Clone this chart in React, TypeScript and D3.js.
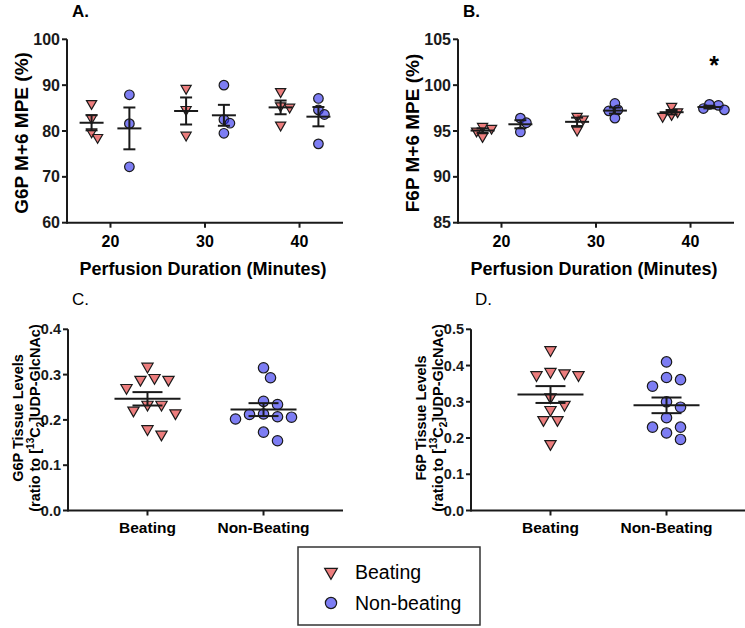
import React from 'react';
import * as d3 from 'd3';

// ---- data ----
const minutes = [20, 30, 40];
const groups = ['Beating', 'Non-Beating'];

// panel A: G6P M+6 MPE (%)
const g6pBeating = [[86.0, 82.8, 78.6, 79.8], [89.3, 84.7, 79.1], [88.6, 85.5, 85.2, 81.3]];
const g6pNonBeating = [[87.9, 81.6, 72.2], [90.0, 82.5, 81.7, 79.5], [87.1, 84.6, 83.6, 77.2]];

// panel B: F6P M+6 MPE (%)
const f6pBeating = [[95.3, 94.4, 95.0, 95.5], [95.1, 96.3, 96.6], [97.1, 96.6, 96.8, 97.7]];
const f6pNonBeating = [[96.4, 95.9, 94.9], [98.0, 97.3, 97.2, 96.4], [97.8, 97.3, 97.45, 97.9]];

// panel C / D: tissue levels, ratio to [13C2]UDP-GlcNAc
const g6pTissueBeating = [0.318, 0.293, 0.289, 0.289, 0.271, 0.234, 0.234, 0.221, 0.215, 0.180, 0.168];
const g6pTissueNonBeating = [0.315, 0.293, 0.241, 0.234, 0.213, 0.212, 0.207, 0.206, 0.202, 0.173, 0.154];
const f6pTissueBeating = [0.443, 0.383, 0.379, 0.374, 0.374, 0.313, 0.292, 0.278, 0.250, 0.250, 0.184];
const f6pTissueNonBeating = [0.410, 0.367, 0.361, 0.343, 0.300, 0.285, 0.256, 0.230, 0.230, 0.214, 0.196];

const ticksA = [60, 70, 80, 90, 100];
const ticksB = [85, 90, 95, 100, 105];
const ticksC = [0, 0.1, 0.2, 0.3, 0.4];
const ticksD = [0, 0.1, 0.2, 0.3, 0.4, 0.5];

const RED = 'rgb(225,45,45)';
const BLUE = 'rgb(45,45,235)';
const INK = '#1a1a1a';
const FONT = '"Liberation Sans", Arial, sans-serif';

const triPath = (size) => d3.symbol().type(d3.symbolTriangle).size(size)();
const circPath = (size) => d3.symbol().type(d3.symbolCircle).size(size)();

// simple beeswarm: place points by value, nudging sideways on collision
function swarm(values, y, cx, dist, step) {
  const order = values.map((v, i) => ({ i, y: y(v) })).sort((a, b) => a.y - b.y);
  const placed = [];
  const xs = new Array(values.length);
  for (const p of order) {
    for (let k = 0; k < 60; k++) {
      const off = k === 0 ? 0 : (k % 2 ? 1 : -1) * Math.ceil(k / 2) * step;
      const x = cx + off;
      if (placed.every(q => Math.hypot(q.x - x, q.y - p.y) >= dist)) {
        placed.push({ x, y: p.y });
        xs[p.i] = x;
        break;
      }
    }
  }
  return xs;
}

function Marker({ kind, x, y, size }) {
  if (kind === 'tri') {
    return <path d={triPath(size)} transform={`translate(${x},${y}) rotate(180)`}
      fill={RED} fillOpacity={0.62} stroke={INK} strokeWidth={1.2} />;
  }
  return <path d={circPath(size)} transform={`translate(${x},${y})`}
    fill={BLUE} fillOpacity={0.62} stroke={INK} strokeWidth={1.2} />;
}

function ErrBar({ values, y, cx, meanW, capW }) {
  const m = d3.mean(values);
  const sem = d3.deviation(values) / Math.sqrt(values.length);
  return (
    <g stroke={INK} strokeWidth={2}>
      <line x1={cx - meanW / 2} x2={cx + meanW / 2} y1={y(m)} y2={y(m)} />
      <line x1={cx} x2={cx} y1={y(m - sem)} y2={y(m + sem)} />
      <line x1={cx - capW / 2} x2={cx + capW / 2} y1={y(m - sem)} y2={y(m - sem)} />
      <line x1={cx - capW / 2} x2={cx + capW / 2} y1={y(m + sem)} y2={y(m + sem)} />
    </g>
  );
}

function YAxis({ y, ticks, x0, fmt, fontSize }) {
  const [r0, r1] = y.range();
  return (
    <g>
      <line x1={x0} x2={x0} y1={r0 + 1} y2={r1} stroke={INK} strokeWidth={2} />
      {ticks.map(t => (
        <g key={t}>
          <line x1={x0 - 5} x2={x0} y1={y(t)} y2={y(t)} stroke={INK} strokeWidth={2} />
          <text x={x0 - 7} y={y(t)} dy="0.35em" textAnchor="end" fontSize={fontSize}
            fontWeight="bold" fill={INK}>{fmt(t)}</text>
        </g>
      ))}
    </g>
  );
}

function TimePanel({ label, yTitle, beating, nonBeating, yDomain, ticks, left, star }) {
  const x = d3.scaleLinear().domain([15.4, 44.6]).range([left, left + 276]);
  const y = d3.scaleLinear().domain(yDomain).range([222.7, 39.3]);
  const base = y.range()[0];
  return (
    <g>
      <text x={left + 5} y={17} fontSize={17} fontWeight="bold">{label}</text>
      <YAxis y={y} ticks={ticks} x0={left} fmt={d3.format('d')} fontSize={16} />
      <line x1={left} x2={x.range()[1]} y1={base} y2={base} stroke={INK} strokeWidth={2} />
      {minutes.map(m => (
        <g key={m}>
          <line x1={x(m)} x2={x(m)} y1={base} y2={base + 5} stroke={INK} strokeWidth={2} />
          <text x={x(m)} y={base + 24} textAnchor="middle" fontSize={16} fontWeight="bold">{m}</text>
        </g>
      ))}
      <text x={(left + x.range()[1]) / 2 - 2} y={275} textAnchor="middle" fontSize={18}
        fontWeight="bold">Perfusion Duration (Minutes)</text>
      <text transform={`translate(${left - 39},${133}) rotate(-90)`} textAnchor="middle"
        fontSize={19} fontWeight="bold">{yTitle}</text>
      {minutes.map((m, i) => {
        const cb = x(m - 2);
        const cn = x(m + 2);
        const xb = swarm(beating[i], y, cb, 6.5, 3);
        const xn = swarm(nonBeating[i], y, cn, 6.5, 3);
        return (
          <g key={m}>
            {beating[i].map((v, j) => <Marker key={'b' + j} kind="tri" x={xb[j]} y={y(v)} size={45} />)}
            {nonBeating[i].map((v, j) => <Marker key={'n' + j} kind="circ" x={xn[j]} y={y(v)} size={72} />)}
            <ErrBar values={beating[i]} y={y} cx={cb} meanW={24} capW={12} />
            <ErrBar values={nonBeating[i]} y={y} cx={cn} meanW={24} capW={12} />
          </g>
        );
      })}
      {star && (
        <text x={x(42.5)} y={star} textAnchor="middle" fontSize={25} fontWeight="bold">*</text>
      )}
    </g>
  );
}

function TissuePanel({ label, metab, beating, nonBeating, yMax, ticks, left }) {
  const x = d3.scalePoint().domain(groups).range([left, left + 275]).padding(0.685);
  const y = d3.scaleLinear().domain([0, yMax]).range([510.5, 329.3]);
  const base = y.range()[0];
  const sets = [beating, nonBeating];
  return (
    <g>
      <text x={left + 4} y={305} fontSize={17}>{label}</text>
      <YAxis y={y} ticks={ticks} x0={left} fmt={d3.format('.1f')} fontSize={14.5} />
      <line x1={left} x2={left + 275} y1={base} y2={base} stroke={INK} strokeWidth={2} />
      {groups.map(g => (
        <g key={g}>
          <line x1={x(g)} x2={x(g)} y1={base} y2={base + 5} stroke={INK} strokeWidth={2} />
          <text x={x(g)} y={base + 22} textAnchor="middle" fontSize={15.5} fontWeight="bold">{g}</text>
        </g>
      ))}
      <g fontSize={14.5} fontWeight="bold">
        <text transform={`translate(${left - 45},${418}) rotate(-90)`} textAnchor="middle">
          {metab} Tissue Levels
        </text>
        <text transform={`translate(${left - 28},${418}) rotate(-90)`} textAnchor="middle">
          (ratio to [<tspan fontSize={10} dy={-6}>13</tspan><tspan dy={6}>C</tspan>
          <tspan fontSize={10} dy={4}>2</tspan><tspan dy={-4}>]UDP-GlcNAc)</tspan>
        </text>
      </g>
      {groups.map((g, i) => {
        const xs = swarm(sets[i], y, x(g), 12, 7);
        return (
          <g key={g}>
            {sets[i].map((v, j) => (
              <Marker key={j} kind={i === 0 ? 'tri' : 'circ'} x={xs[j]} y={y(v)} size={i === 0 ? 55 : 85} />
            ))}
            <ErrBar values={sets[i]} y={y} cx={x(g)} meanW={66} capW={30} />
          </g>
        );
      })}
    </g>
  );
}

export default function App() {
  return (
    <svg width={745} height={628} style={{ position: 'absolute', left: 0, top: 0, background: '#fff' }}
      fontFamily={FONT}>
      <rect width={745} height={628} fill="#fff" />
      <TimePanel label="A." yTitle="G6P M+6 MPE (%)" beating={g6pBeating} nonBeating={g6pNonBeating}
        yDomain={[60, 100]} ticks={ticksA} left={67} />
      <TimePanel label="B." yTitle="F6P M+6 MPE (%)" beating={f6pBeating} nonBeating={f6pNonBeating}
        yDomain={[85, 105]} ticks={ticksB} left={458} star={74} />
      <TissuePanel label="C." metab="G6P" beating={g6pTissueBeating} nonBeating={g6pTissueNonBeating}
        yMax={0.4} ticks={ticksC} left={68} />
      <TissuePanel label="D." metab="F6P" beating={f6pTissueBeating} nonBeating={f6pTissueNonBeating}
        yMax={0.5} ticks={ticksD} left={471} />
      <g>
        <rect x={298} y={547} width={182} height={78} fill="none" stroke="#333" strokeWidth={1.5} />
        <Marker kind="tri" x={331} y={572} size={70} />
        <Marker kind="circ" x={331} y={603} size={100} />
        <text x={355} y={579} fontSize={19.5}>Beating</text>
        <text x={355} y={610} fontSize={19.5}>Non-beating</text>
      </g>
    </svg>
  );
}
